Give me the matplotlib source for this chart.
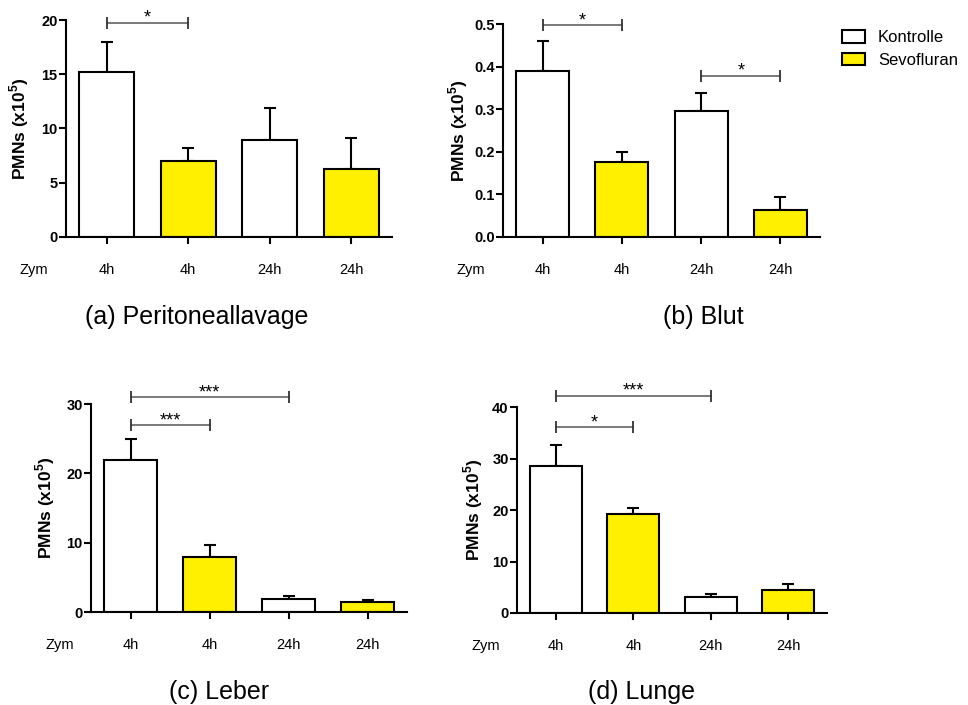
import matplotlib
matplotlib.use("Agg")
import matplotlib.pyplot as plt
from matplotlib.patches import Patch

plt.rcParams["font.family"] = ["Liberation Sans", "DejaVu Sans"]
plt.rcParams["mathtext.fontset"] = "custom"
plt.rcParams["mathtext.rm"] = "Liberation Sans"
plt.rcParams["mathtext.bf"] = "Liberation Sans:bold"

groups = ["4h", "4h", "24h", "24h"]
series = ["Kontrolle", "Sevofluran"]
bar_colors = ["white", "#fff000", "white", "#fff000"]

# (a) Peritoneallavage
a_means = [15.2, 7.05, 8.9, 6.25]
a_err = [2.8, 1.15, 3.0, 2.9]
a_sig = [(0, 1, 19.76, "*")]
# (b) Blut
b_means = [0.389, 0.175, 0.295, 0.063]
b_err = [0.07, 0.025, 0.042, 0.03]
b_sig = [(0, 1, 0.497, "*"), (2, 3, 0.379, "*")]
# (c) Leber
c_means = [21.9, 7.9, 1.87, 1.44]
c_err = [3.0, 1.8, 0.43, 0.33]
c_sig = [(0, 1, 26.9, "***"), (0, 2, 31.0, "***")]
# (d) Lunge
d_means = [28.5, 19.2, 3.2, 4.5]
d_err = [4.1, 1.2, 0.4, 1.2]
d_sig = [(0, 1, 36.1, "*"), (0, 2, 42.2, "***")]

panels = [
    ("(a) Peritoneallavage", a_means, a_err, a_sig, [0, 5, 10, 15, 20], "{:g}",
     [66, 20, 392, 237], (197, 317), -0.106),
    ("(b) Blut", b_means, b_err, b_sig, [0, 0.1, 0.2, 0.3, 0.4, 0.5], "{:.1f}",
     [503, 24, 820, 237], (703, 317), -0.103),
    ("(c) Leber", c_means, c_err, c_sig, [0, 10, 20, 30], "{:g}",
     [91, 404, 407, 612], (219, 692), -0.109),
    ("(d) Lunge", d_means, d_err, d_sig, [0, 10, 20, 30, 40], "{:g}",
     [517, 407, 827, 613], (642, 692), -0.102),
]

W, H = 968, 705
fig = plt.figure(figsize=(W / 100, H / 100), dpi=100)

for caption, means, errs, sigs, yticks, fmt, box, cap_xy, ylab_x in panels:
    l, t, r, b = box
    ax = fig.add_axes([l / W, 1 - b / H, (r - l) / W, (b - t) / H])
    x = range(len(means))
    ax.bar(x, means, width=0.67, color=bar_colors, edgecolor="black",
           linewidth=1.5, zorder=2)
    ax.errorbar(x, means, yerr=[[0] * len(errs), errs], fmt="none",
                ecolor="black", elinewidth=1.5, capsize=4.5, capthick=1.5,
                zorder=1)
    ax.set_xlim(-0.5, 3.5)
    ax.set_ylim(0, yticks[-1])
    ax.set_yticks(yticks)
    ax.set_yticklabels([fmt.format(v) for v in yticks], fontweight="bold",
                       fontsize=10.5)
    ax.set_xticks(list(x))
    ax.set_xticklabels(groups, fontsize=10.5)
    ax.tick_params(axis="x", length=5, width=1.5, pad=14)
    ax.tick_params(axis="y", length=5, width=1.5, pad=1)
    for side in ["top", "right"]:
        ax.spines[side].set_visible(False)
    for side in ["left", "bottom"]:
        ax.spines[side].set_linewidth(1.5)
    ax.set_ylabel(r"PMNs (x10$^{\mathbf{5}}$)", fontweight="bold", fontsize=12.5)
    ax.yaxis.set_label_coords(ylab_x, 0.5)
    ax.annotate("Zym", xy=(-0.9, 0), xycoords=ax.get_xaxis_transform(),
                xytext=(0, -19), textcoords="offset points",
                ha="center", va="top", fontsize=10.5, annotation_clip=False)

    for i0, i1, yy, stars in sigs:
        ax.plot([i0, i1], [yy, yy], color="#555555", lw=1.1, clip_on=False)
        ax.plot([i0, i1], [yy, yy], ls="none", marker="|", ms=8, mew=1.3,
                color="#333333", clip_on=False)
        ax.annotate(stars, xy=((i0 + i1) / 2, yy), xytext=(0, -3),
                    textcoords="offset points", ha="center", va="bottom",
                    fontsize=13, annotation_clip=False)

    fig.text(cap_xy[0] / W, 1 - cap_xy[1] / H, caption, fontsize=18,
             ha="center", va="center")

handles = [Patch(facecolor=c, edgecolor="black", linewidth=1.5)
           for c in ["white", "#fff000"]]
fig.legend(handles, series, loc="upper left",
           bbox_to_anchor=(842 / W, 1 - 30 / H), frameon=False, fontsize=12,
           borderpad=0, handlelength=1.4, handleheight=0.8,
           handletextpad=0.75, labelspacing=0.45, borderaxespad=0)

fig.savefig("out.png", dpi=100)
